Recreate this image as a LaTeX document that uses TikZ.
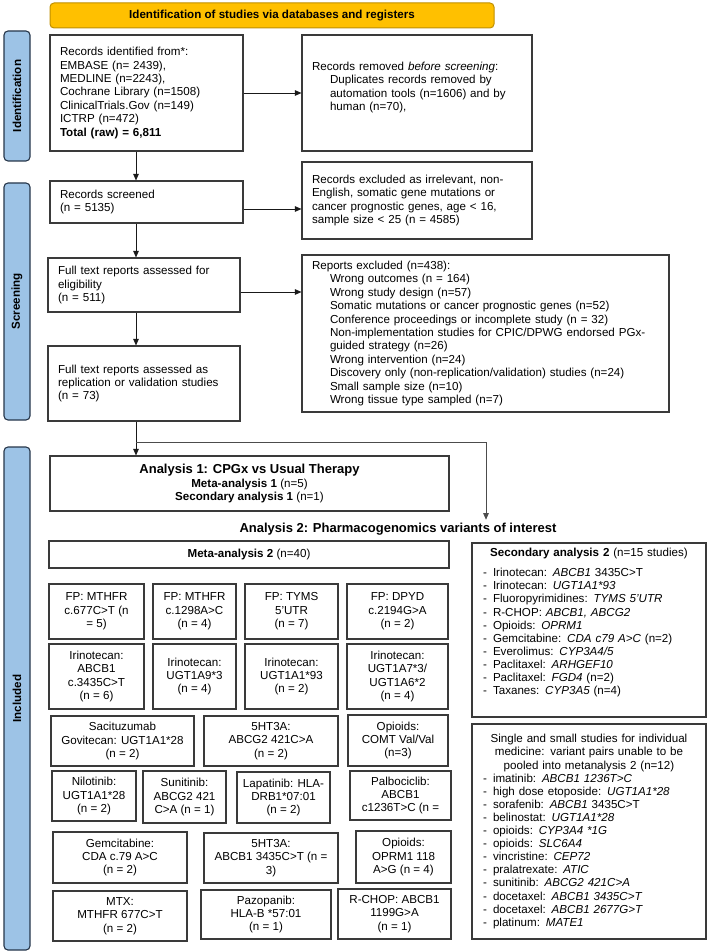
\documentclass[tikz,border=0pt]{standalone}
\usepackage{fontspec}
\setmainfont{Liberation Sans}
\usetikzlibrary{arrows.meta}
\definecolor{bannerfill}{HTML}{FFC000}
\definecolor{banneredge}{HTML}{BF8F00}
\definecolor{sidefill}{HTML}{9DC3E6}
\definecolor{sideedge}{HTML}{26364A}
\definecolor{boxedge}{HTML}{3A3A3A}
\newcommand{\fs}{\fontsize{11.6}{13.4}\selectfont}
\newcommand{\fsl}{\fontsize{11.6}{13.1}\selectfont}
\newcommand{\dm}{\makebox[10pt][l]{-}}
\newcommand{\ind}{\hspace*{18pt}}
\newcommand{\bx}[7][]{%
  \pgfmathsetmacro\bxw{#5-#3}%
  \pgfmathsetmacro\bxh{#6-#4}%
  \pgfmathsetmacro\bxt{#5-#3-20}%
  \node[box,minimum width=\bxw pt,minimum height=\bxh pt,#1] (#2) at ({(#3+#5)/2},{-(#4+#6)/2}) {#7};}
\begin{document}
\begin{tikzpicture}[x=1pt,y=1pt,
  box/.style={draw=boxedge,line width=1.1pt,inner sep=0pt,font=\fs,align=center,text=black},
  lbox/.style={align=left,text width=\bxt pt},
  rbox/.style={align=left,text width=\bxw pt-22pt,font=\fsl},
  banner/.style={fill=bannerfill,draw=banneredge,line width=1pt,rounded corners=4pt},
  side/.style={fill=sidefill,draw=sideedge,line width=1.1pt,rounded corners=4pt,inner sep=0pt,
    minimum height=26pt,font=\bfseries\fontsize{11.6}{13}\selectfont,rotate=90},
  arr/.style={-{Triangle[length=6.5pt,width=5.5pt]},line width=0.9pt,draw=black!90},
  thinarr/.style={-{Triangle[length=6.5pt,width=5.5pt]},line width=0.8pt,draw=black!70}]
\useasboundingbox (0,0) rectangle (709,-952);

% side bars
\node[side,minimum width=130pt] (sid) at (17,-96) {Identification};
\node[side,minimum width=237pt] (sscr) at (17,-301.5) {Screening};
\node[side,minimum width=503pt] (sinc) at (17,-698.5) {Included};

% banner
\bx[banner,font=\bfseries\fs]{ban}{50}{3}{494}{28}{Identification of studies via databases and registers}

% identification
\bx[lbox]{id}{50}{35}{243}{151}{Records identified from*:\\EMBASE (n= 2439),\\MEDLINE (n=2243),\\Cochrane Library (n=1508)\\ClinicalTrials.Gov (n=149)\\ICTRP (n=472)\\\textbf{Total (raw) = 6,811}}
\bx[lbox]{rem}{302}{35}{532}{151}{Records removed \textit{before screening}:\\\ind Duplicates records removed by\\\ind automation tools (n=1606) and by\\\ind human (n=70),\\~}

% screening
\bx[lbox]{scr}{50}{181}{243}{223}{Records screened\\(n = 5135)}
\bx[lbox]{ex1}{302}{162}{532}{239}{Records excluded as irrelevant, non-\\English, somatic gene mutations or\\cancer prognostic genes, age < 16,\\sample size < 25 (n = 4585)}
\bx[lbox]{ful}{48}{258}{240}{312}{Full text reports assessed for\\eligibility\\(n = 511)}
\bx[lbox]{ex2}{302}{255}{669}{412}{Reports excluded (n=438):\\\ind Wrong outcomes (n = 164)\\\ind Wrong study design (n=57)\\\ind Somatic mutations or cancer prognostic genes (n=52)\\\ind Conference proceedings or incomplete study (n = 32)\\\ind Non-implementation studies for CPIC/DPWG endorsed PGx-\\\ind guided strategy (n=26)\\\ind Wrong intervention (n=24)\\\ind Discovery only (non-replication/validation) studies (n=24)\\\ind Small sample size (n=10)\\\ind Wrong tissue type sampled (n=7)}
\bx[lbox]{rep}{48}{346}{240}{421}{Full text reports assessed as\\replication or validation studies\\(n = 73)}

% included
\bx{a1}{50}{456}{449}{511}{{\fontsize{13}{14.5}\selectfont\bfseries Analysis 1: CPGx vs Usual Therapy}\\\textbf{Meta-analysis 1} (n=5)\\\textbf{Secondary analysis 1} (n=1)}
\node[font=\bfseries\fontsize{13}{15}\selectfont,inner sep=1pt] (a2t) at (398,-529) {Analysis 2: Pharmacogenomics variants of interest};
\bx{m2}{49}{541}{449}{568}{\textbf{Meta-analysis 2} (n=40)}

\bx{g11}{49}{584}{144}{639}{FP: MTHFR\\c.677C>T (n\\= 5)}
\bx{g12}{153}{584}{236}{639}{FP: MTHFR\\c.1298A>C\\(n = 4)}
\bx{g13}{245}{584}{338}{639}{FP: TYMS\\5'UTR\\(n = 7)}
\bx{g14}{347}{584}{448}{639}{FP: DPYD\\c.2194G>A\\(n = 2)}

\bx{g21}{49}{644}{144}{709}{Irinotecan:\\ABCB1\\c.3435C>T\\(n = 6)}
\bx{g22}{153}{644}{236}{709}{Irinotecan:\\UGT1A9*3\\(n = 4)}
\bx{g23}{245}{644}{338}{709}{Irinotecan:\\UGT1A1*93\\(n = 2)}
\bx{g24}{347}{644}{448}{709}{Irinotecan:\\UGT1A7*3/\\UGT1A6*2\\(n = 4)}

\bx{g31}{51}{716}{194}{766}{Sacituzumab\\Govitecan: UGT1A1*28\\(n = 2)}
\bx{g32}{204}{716}{338}{766}{5HT3A:\\ABCG2 421C>A\\(n = 2)}
\bx{g33}{348}{715}{448}{766}{Opioids:\\COMT Val/Val\\(n=3)}

\bx{g41}{52}{771}{136}{821}{Nilotinib:\\UGT1A1*28\\(n = 2)}
\bx{g42}{143}{771}{226}{823}{Sunitinib:\\ABCG2 421\\C>A (n = 1)}
\bx{g43}{237}{772}{330}{823}{Lapatinib: HLA-\\DRB1*07:01\\(n = 2)}
\bx{g44}{350}{771}{451}{820}{Palbociclib:\\ABCB1\\c1236T>C (n =}

\bx{g51}{53}{832}{187}{883}{Gemcitabine:\\CDA c.79 A>C\\(n = 2)}
\bx{g52}{204}{833}{338}{883}{5HT3A:\\ABCB1 3435C>T (n =\\3)}
\bx{g53}{356}{831}{451}{883}{Opioids:\\OPRM1 118\\A>G (n = 4)}

\bx{g61}{53}{891}{187}{941}{MTX:\\MTHFR 677C>T\\(n = 2)}
\bx{g62}{201}{890}{331}{939}{Pazopanib:\\HLA-B *57:01\\(n = 1)}
\bx{g63}{338}{889}{451}{939}{R-CHOP: ABCB1\\1199G>A\\(n = 1)}

\bx[rbox]{s2}{472}{543}{706}{717}{\makebox[\linewidth]{\textbf{Secondary analysis 2} (n=15 studies)}\\[7pt]
\dm Irinotecan: \textit{ABCB1} 3435C>T\\
\dm Irinotecan: \textit{UGT1A1*93}\\
\dm Fluoropyrimidines: \textit{TYMS 5'UTR}\\
\dm R-CHOP: \textit{ABCB1, ABCG2}\\
\dm Opioids: \textit{OPRM1}\\
\dm Gemcitabine: \textit{CDA c79 A>C} (n=2)\\
\dm Everolimus: \textit{CYP3A4/5}\\
\dm Paclitaxel: \textit{ARHGEF10}\\
\dm Paclitaxel: \textit{FGD4} (n=2)\\
\dm Taxanes: \textit{CYP3A5} (n=4)\\[4pt]~}

\bx[rbox]{ss}{472}{724}{706}{939}{\makebox[\linewidth]{Single and small studies for individual}\\
\makebox[\linewidth]{medicine: variant pairs unable to be}\\
\makebox[\linewidth]{pooled into metanalysis 2 (n=12)}\\
\dm imatinib: \textit{ABCB1 1236T>C}\\
\dm high dose etoposide: \textit{UGT1A1*28}\\
\dm sorafenib: \textit{ABCB1} 3435C>T\\
\dm belinostat: \textit{UGT1A1*28}\\
\dm opioids: \textit{CYP3A4 *1G}\\
\dm opioids: \textit{SLC6A4}\\
\dm vincristine: \textit{CEP72}\\
\dm pralatrexate: \textit{ATIC}\\
\dm sunitinib: \textit{ABCG2 421C>A}\\
\dm docetaxel: \textit{ABCB1 3435C>T}\\
\dm docetaxel: \textit{ABCB1 2677G>T}\\
\dm platinum: \textit{MATE1}}

% connectors
\coordinate (cx) at (136,0);
\coordinate (cx2) at (486,0);
\coordinate (br) at (136,-442);
\draw[arr] (id.east) -- (rem.west);
\draw[arr] (id.south -| cx) -- (scr.north -| cx);
\draw[arr] ([yshift=-7pt]scr.east) -- ([yshift=-7pt]scr.east -| ex1.west);
\draw[arr] (scr.south -| cx) -- (ful.north -| cx);
\draw[arr] ([yshift=-7pt]ful.east) -- ([yshift=-7pt]ful.east -| ex2.west);
\draw[arr] (ful.south -| cx) -- (rep.north -| cx);
\draw[arr] (rep.south -| cx) -- (a1.north -| cx);
\draw[thinarr] (br) -| ([yshift=2pt]a2t.north -| cx2);
\end{tikzpicture}
\end{document}
